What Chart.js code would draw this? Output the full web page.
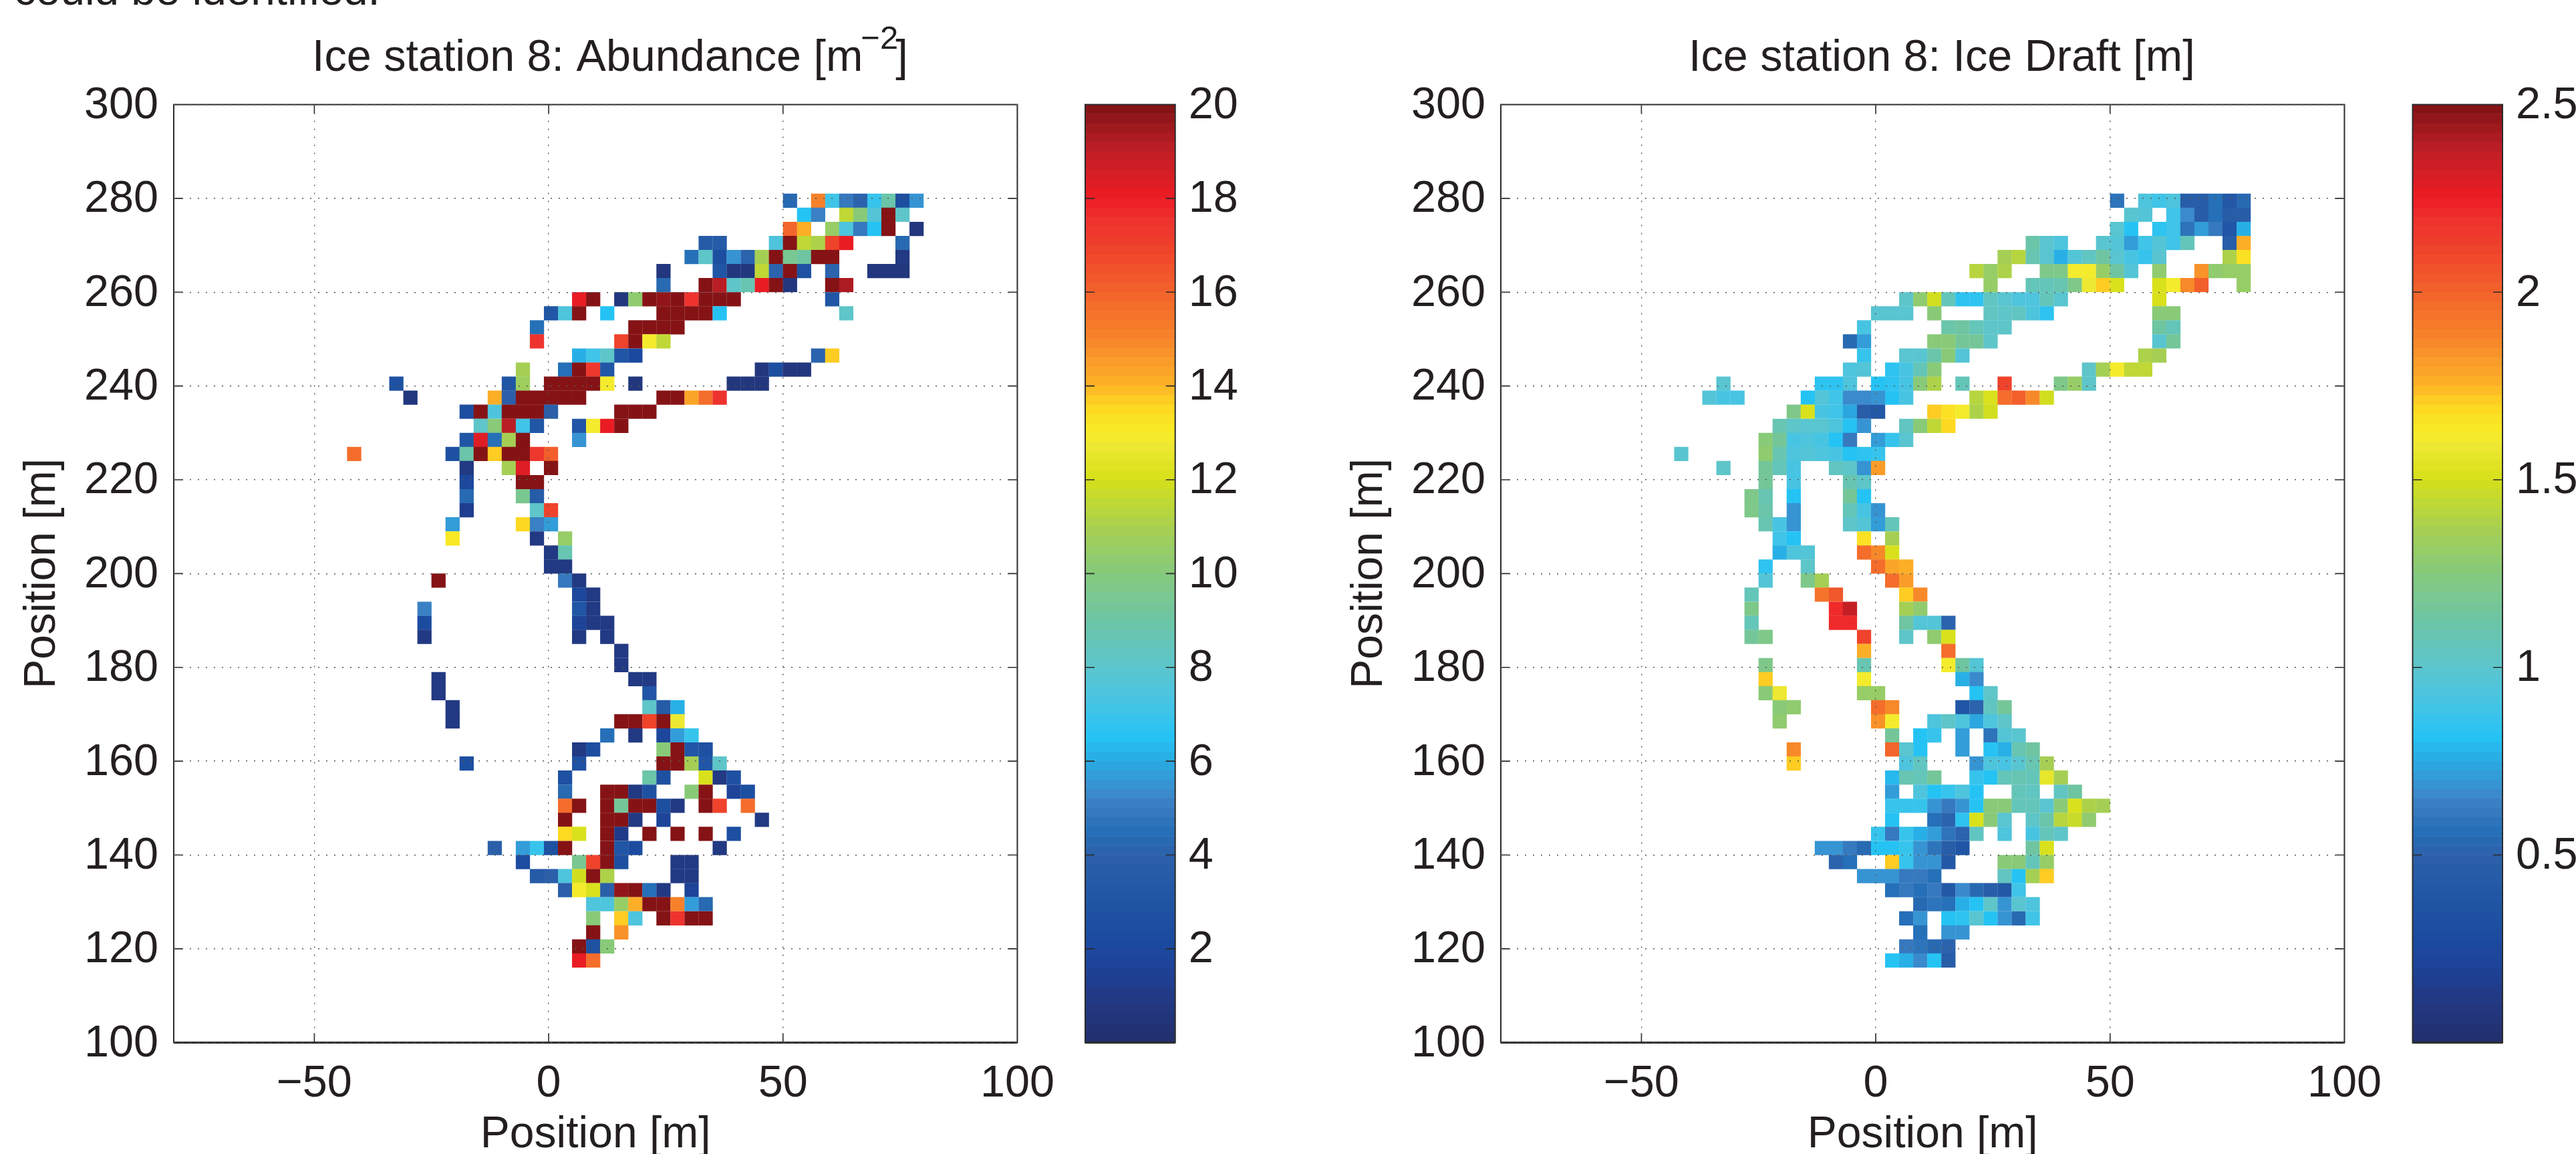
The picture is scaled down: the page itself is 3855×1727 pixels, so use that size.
<!DOCTYPE html>
<html><head><meta charset="utf-8">
<script src="https://cdn.jsdelivr.net/npm/chart.js@4"></script>
<style>
html,body{margin:0;padding:0;background:#fff;width:3855px;height:1727px;overflow:hidden}
canvas{position:absolute;top:0}
#note{position:absolute;left:21px;top:-53px;font:65.7px "Liberation Sans",Arial,sans-serif;color:#231f20;white-space:nowrap;line-height:76px}
</style></head><body>
<div id="note">could be identified.</div>
<canvas id="abundanceMap" width="1600" height="1727" style="left:0"></canvas>
<canvas id="abundanceBar" width="360" height="1727" style="left:1600px"></canvas>
<canvas id="draftMap" width="1600" height="1727" style="left:1986px"></canvas>
<canvas id="draftBar" width="290" height="1727" style="left:3565px"></canvas>
<script>
const _ = null;
const fontName = '"Liberation Sans", Arial, sans-serif';
const ink = '#231f20';
const xTicks = [-50, 0, 50, 100];
const yTicks = [100,120,140,160,180,200,220,240,260,280,300];
const abundanceTicks = [2,4,6,8,10,12,14,16,18,20];
const draftTicks = [0.5,1,1.5,2,2.5];
const cellSize = 3;
const topRowCentre = 279.5;

// left edge (m) of the first cell in each row, top row first
const abundanceStarts = [50,53,50,32,29,23,23,5,-1,-4,-4,5,-7,-34,-31,-19,-16,-19,-43,-19,-19,-19,-19,-22,-22,-1,-1,-25,5,-28,-28,-28,14,14,-25,-25,-22,-22,11,5,-19,2,2,2,2,2,-13,-7,-4,2,8,8,8,5,5];
const abundanceRows = [
[4.2,_,15,7,4.8,4,6.8,8.8,2.5,5.4],
[6.5,5,_,11.4,10,7.6,20,8],
[15.8,14,_,10.5,7.4,4.8,6.5,20,_,0.7],
[3.4,3.4,_,_,_,7.4,20,11.4,11.2,16.8,18,_,_,_,4.2],
[4.5,8,2.5,5.4,4,10.8,20,9.5,9,20,20,_,_,_,_,0.8],
[0.6,_,_,_,3,0.6,0.6,11.4,4,20,2.8,_,4,_,_,0.6,0.6,0.6],
[4.2,_,_,20,19,8,8.6,18,20,0.6,_,_,20,19.3],
[18,20,_,0.6,10.3,20,19.6,20,17.5,20,20,20,_,_,_,_,_,_,3],
[3,7.4,20,_,6.5,_,_,_,20,20,20,20,6.5,_,_,_,_,_,_,_,_,8],
[4.5,_,_,_,_,_,_,20,20,20,20],
[17.5,_,_,_,_,_,16.8,20,12.9,11.5],
[6.1,7,8,3,2,_,_,_,_,_,_,_,_,_,_,_,_,4,13.6],
[10.8,_,_,4.5,20,17.3,3,_,_,_,_,_,_,_,_,_,_,0.7,2.5,0.7,0.7],
[2.8,_,_,_,_,_,_,_,3,10.6,_,20,20,20,20,12.9,_,0.7,_,_,_,_,_,_,0.7,0.7,0.7],
[0.7,_,_,_,_,_,14,3.8,20,20,20,20,20,_,_,_,_,_,20,20,14.2,15.6,17.5],
[2.5,20,7.4,20,20,20,3.8,_,_,_,_,20,20,20],
[8,10,19,7,3,_,_,3,12.9,18,20],
[3,18.3,4.5,10.8,20,_,_,_,5.4],
[15.6,_,_,_,_,_,_,2.8,8.8,20,13.7,20,20,17.3,16],
[0.8,_,_,10.8,18.3,_,20],
[1.8,_,_,_,20,20],
[4.2,_,_,_,9.5,3.4],
[1.3,_,_,_,_,8,16.8],
[5.8,_,_,_,_,13.5,5,5.8],
[13,_,_,_,_,_,0.8,_,10.5],
[0.8,8.7],
[0.8,0.8],
[20,_,_,_,_,_,_,_,_,4.8,0.8],
[1.8,0.8],
[5,_,_,_,_,_,_,_,_,_,_,3,0.8],
[2.3,_,_,_,_,_,_,_,_,_,_,1.7,0.8,0.8],
[0.8,_,_,_,_,_,_,_,_,_,_,0.8,_,0.8],
[0.8],
[0.8],
[0.8,_,_,_,_,_,_,_,_,_,_,_,_,_,0.8,0.8],
[0.8,_,_,_,_,_,_,_,_,_,_,_,_,_,_,3],
[0.8,_,_,_,_,_,_,_,_,_,_,_,_,_,8,3.4,6.1],
[0.8,_,_,_,_,_,_,_,_,_,_,_,20,20,16.8,20,12.7],
[4.5,_,0.8,_,1.8,5.8,6.8],
[0.8,2.4,_,_,_,_,10,20,3,2.8],
[2.4,_,_,_,_,_,_,_,2.8,_,_,_,_,_,20,20,10.8,3,8],
[2.8,_,_,_,_,_,8.9,2.8,_,_,12,0.8,2.6],
[4.2,_,_,20,20,0.8,2.8,_,_,10,20,_,1.6,2.4],
[15.7,20,_,20,9.2,20,20,2.4,0.8,_,20,16.8,_,15.7],
[20,_,_,20,20,0.8,_,1.7,_,_,_,_,_,_,0.8],
[13.5,12,_,20,1,_,20,_,20,_,20,_,2.4],
[3.8,_,5.8,6.8,2.8,20,_,_,20,3,2.2,_,_,_,_,_,0.8],
[2.2,_,_,_,9.5,16.8,20,2.5,_,_,_,0.8,0.8],
[3.4,3.8,7.5,11.8,20,11,_,_,_,_,0.8,0.8],
[3.9,12.9,12.1,3.9,19.6,20,4.5,0.8,_,1.6],
[7.4,7.4,10.5,14.1,20,20,15,5.8,4.2],
[10,_,13.7,7.4,_,20,17.5,20,20],
[20,_,14.6],
[20,2.8,10],
[18,15.7]
];

const draftStarts = [50,53,50,32,26,20,23,5,-1,-4,-7,-4,-7,-34,-37,-19,-22,-25,-43,-34,-25,-28,-28,-25,-22,-22,-25,-25,-28,-28,-28,-28,-4,-25,-25,-25,-22,-22,2,-19,-19,2,2,2,2,-1,-13,-10,-4,2,8,5,8,5,2];
const draftRows = [
[0.58,_,0.94,0.88,0.94,0.45,0.45,0.56,0.4,0.53],
[0.99,0.96,_,0.88,0.66,0.45,0.56,0.45,0.45],
[0.98,0.81,_,0.84,0.88,0.58,0.72,0.6,0.38,0.76],
[1.1,0.98,0.94,_,_,0.98,0.96,0.72,0.88,0.96,0.88,1.05,_,_,0.45,1.76],
[1.35,1.42,1.09,0.99,0.76,0.96,1.03,1.13,0.98,0.9,0.86,0.98,_,_,_,_,1.4,1.67],
[1.42,1.31,1.38,_,_,1.22,1.22,1.62,1.6,1.3,1.13,0.96,_,1.28,_,_,1.84,1.28,1.3,1.3],
[1.31,_,_,1.05,1.06,1.09,1.22,1.59,1.7,1.5,_,_,1.5,1.6,1.87,2,_,_,1.32],
[1,1.28,1.48,1.06,0.84,0.84,1.03,0.99,0.94,0.94,1.06,0.99,_,_,_,_,_,_,1.52],
[0.98,0.98,0.98,_,1.26,_,_,_,1.03,1,1.03,0.94,0.84,_,_,_,_,_,_,_,1.25,1.25],
[0.9,_,_,_,_,_,1.1,1.13,1.06,1.01,1.01,_,_,_,_,_,_,_,_,_,_,1.13,1.06],
[0.53,0.72,_,_,_,_,1.26,1.26,1.15,1.17,1.01,_,_,_,_,_,_,_,_,_,_,_,0.98,1.17],
[0.86,_,_,0.99,0.99,1.1,1.25,0.96,_,_,_,_,_,_,_,_,_,_,_,_,1.38,1.36],
[0.94,0.96,_,0.84,0.91,1.06,1.25,_,_,_,_,_,_,_,_,_,_,1.02,1.36,1.62,1.44,1.44],
[0.99,_,_,_,_,_,_,0.84,0.84,0.94,_,0.81,0.84,0.92,1.25,1.38,_,1.05,_,_,2.12,_,_,_,1.22,1.3,1.02],
[0.96,0.92,0.9,_,_,_,_,0.82,0.96,0.88,0.66,0.66,0.7,0.82,0.9,_,_,_,_,1.42,1.5,1.96,2,1.87,1.49],
[1.22,1.5,0.92,0.88,0.74,0.45,0.42,_,_,_,1.7,1.67,1.6,1.38,1.48],
[1.09,1.02,0.98,0.98,0.94,0.82,0.68,_,_,1.03,1.27,1.44,1.68],
[1.26,1.17,0.91,0.94,0.9,0.82,0.6,_,0.72,0.86,0.98],
[0.99,_,_,_,_,_,1.28,1.09,0.94,0.96,0.94,0.9,0.82,0.84,0.86],
[1.02,_,_,1.17,1.07,0.9,_,_,1.03,1.01,0.7,1.82],
[1.15,_,0.9,_,_,_,1.09,1.02],
[1.22,1.09,_,0.81,_,_,_,1.17,0.81],
[1.22,1.1,_,0.7,_,_,_,1.07,0.9,0.68],
[1.09,0.92,0.68,_,_,_,1,0.96,0.72,1.05],
[0.88,0.81,_,_,_,_,1.67,_,1.35],
[0.76,0.94,0.96,_,_,_,1.96,1.87,1.52],
[0.84,_,_,1,_,_,_,_,1.96,1.78,1.76],
[0.96,_,_,1.21,1.35,_,_,_,_,1.97,1.81],
[1.06,_,_,_,_,1.93,2.03,_,_,_,_,1.7,1.86],
[1.21,_,_,_,_,_,2.2,2.37,_,_,_,1.36,1.28],
[1.07,_,_,_,_,_,2.2,2.2,_,_,_,1.13,0.96,0.96,0.5],
[1.15,1.21,_,_,_,_,_,_,2.1,_,_,1,_,1.28,1.5],
[1.77,_,_,_,_,_,1.95],
[1.22,_,_,_,_,_,_,1.09,_,_,_,_,_,1.61,1.13,0.96],
[1.7,_,_,_,_,_,_,1.61,_,_,_,_,_,_,0.76,0.66],
[1.25,1.58,_,_,_,_,_,1.3,1.3,_,_,_,_,_,_,0.81,1.01],
[1.27,1.28,_,_,_,_,_,1.96,1.87,_,_,_,_,0.38,0.5,1.03,1.15],
[1.28,_,_,_,_,_,_,1.84,1.62,_,_,0.94,1,0.94,0.74,0.94,1],
[1.15,_,0.81,0.86,_,0.72,_,0.58,0.96,0.98],
[1.87,_,_,_,_,_,_,1.98,0.99,0.81,_,_,0.72,_,0.81,0.76,1.09,1.13],
[1.7,_,_,_,_,_,_,_,0.94,1.03,_,_,_,0.7,0.94,0.9,0.99,1.09,1.36],
[0.78,1.09,1.05,1.15,_,_,0.86,0.81,1.05,1.09,1.07,1.55,1.35],
[0.72,_,0.94,0.81,0.86,0.94,0.81,_,_,1.06,1.03,_,1.03,1.13],
[0.86,0.86,0.86,0.68,0.62,0.68,0.81,1.27,1.25,1.06,1.05,0.99,1.25,1.5,1.38,1.35],
[0.81,_,_,0.56,0.5,0.84,1.5,1.26,0.99,_,1.02,1.1,1.42,1.47,1.28],
[0.86,0.62,0.86,0.76,0.72,0.58,0.5,1.03,_,0.94,_,0.91,1.06,1.02],
[0.68,0.68,0.62,0.53,0.81,0.81,0.86,0.68,0.58,0.45,0.38,_,_,_,_,1.13,1.5],
[0.5,0.56,_,_,1.7,0.86,0.68,0.68,0.42,_,_,_,1.26,1.25,1.06,1.32],
[0.68,0.68,0.68,0.62,0.62,0.56,_,_,_,_,1.03,0.81,1.35,1.7],
[0.56,0.62,0.56,0.62,0.4,0.65,0.53,0.45,0.4,0.88],
[0.54,0.58,0.56,0.76,0.81,1.02,0.68,0.99,0.94],
[0.56,0.68,_,0.81,0.84,0.98,0.81,0.68,0.53,0.88],
[0.56,_,0.68,0.68],
[0.62,0.58,0.53,0.5],
[0.81,0.76,0.66,0.81,0.45]
];

// colour map: fraction of the colour range -> colour, sampled in 100 bands
const mapStops = [[0,'#232f6d'],[.05,'#223a85'],[.07,'#1f3f92'],[.1,'#1b489e'],[.15,'#1f55a4'],[.2,'#2c60aa'],[.225,'#2570b8'],[.25,'#3a7bc0'],[.27,'#3a8fd0'],[.3,'#29abe2'],[.325,'#25c3f4'],[.36,'#45c4e6'],[.4,'#5cc5cd'],[.45,'#6cc5a5'],[.5,'#86c97d'],[.55,'#a8d04f'],[.6,'#d6e01a'],[.64,'#f0e935'],[.65,'#f8ec25'],[.68,'#fed520'],[.7,'#fdb327'],[.75,'#f7842a'],[.8,'#f2632b'],[.85,'#ef3f2b'],[.875,'#ee332f'],[.9,'#ed1c24'],[.95,'#c01f26'],[1,'#7e1214']];
const bandCount = 100;
const hexRgb = h => [1,3,5].map(i => parseInt(h.substr(i,2),16));
function sampleMap(f){
  let i = 0;
  while (i < mapStops.length-2 && f > mapStops[i+1][0]) i++;
  const [a,ca] = mapStops[i], [b,cb] = mapStops[i+1];
  const t = Math.min(1,Math.max(0,(f-a)/(b-a))), A = hexRgb(ca), B = hexRgb(cb);
  return 'rgb('+A.map((v,k)=>Math.round(v+(B[k]-v)*t)).join(',')+')';
}
const bands = Array.from({length:bandCount},(_v,i)=>sampleMap((i+0.5)/bandCount));
const bandFor = (v,max) => bands[Math.min(bandCount-1,Math.floor(v/max*bandCount))];

const plotTop = 156.5, plotBottom = 1560.3, canvasH = 1727;

const framePlugin = {
  id:'frame',
  afterDatasetsDraw(chart,_a,o){
    const {ctx,chartArea:{left,right,top,bottom}} = chart;
    ctx.save();
    ctx.strokeStyle = '#2b2b2b'; ctx.lineWidth = 2;
    ctx.strokeRect(left,top,right-left,bottom-top);
    ctx.lineWidth = 3;
    ctx.beginPath();ctx.moveTo(left,bottom);ctx.lineTo(right,bottom);ctx.stroke();
    ctx.lineWidth = 1.6;
    ctx.beginPath();
    const len = 14;
    if (o.xTicks) o.xTicks.forEach(v=>{ if(v>=chart.scales.x.max) return; const p=chart.scales.x.getPixelForValue(v);
      ctx.moveTo(p,bottom);ctx.lineTo(p,bottom-len);ctx.moveTo(p,top);ctx.lineTo(p,top+len);});
    o.yTicks.forEach(v=>{ const y=chart.scales.y; if(v<=y.min||v>=y.max) return; const p=y.getPixelForValue(v);
      ctx.moveTo(left,p);ctx.lineTo(left+len,p);ctx.moveTo(right,p);ctx.lineTo(right-len,p);});
    ctx.stroke();
    ctx.restore();
  },
  afterDraw(chart,_a,o){
    if(!o.title) return;
    const {ctx}=chart;
    ctx.save();
    ctx.fillStyle=ink; ctx.textBaseline='alphabetic'; ctx.textAlign='left';
    let x=o.titleX;
    o.title.forEach(p=>{
      ctx.font=(p.sup?49:66.5)+'px '+fontName;
      x+=p.dx||0;
      ctx.fillText(p.text,x,p.sup?73:106);
      x+=ctx.measureText(p.text).width;
    });
    ctx.restore();
  }
};

function heatMap(id,starts,rows,maxV,title,titleX,rightPad){
  const cells=[];
  rows.forEach((row,r)=>row.forEach((v,c)=>{
    if(v!==null) cells.push({x:starts[r]+cellSize/2+c*cellSize,y:topRowCentre-r*cellSize,v});
  }));
  new Chart(document.getElementById(id),{
    type:'scatter',
    data:{datasets:[{data:cells,
      pointStyle:'rect',
      pointBorderWidth:0,
      pointRadius(ctx){
        const s=ctx.chart.scales.x;
        return Math.abs(s.getPixelForValue(cellSize)-s.getPixelForValue(0))/2*Math.SQRT2+0.15;
      },
      pointBackgroundColor(ctx){const d=ctx.raw; return d?bandFor(d.v,maxV):'#000';}
    }]},
    plugins:[framePlugin],
    options:{
      responsive:false,animation:false,events:[],
      layout:{padding:{top:plotTop,right:rightPad,left:0,bottom:0}},
      plugins:{legend:{display:false},tooltip:{enabled:false},frame:{xTicks,yTicks,title,titleX}},
      scales:{
        x:{type:'linear',min:-80,max:100,
          afterBuildTicks(s){s.ticks=xTicks.map(value=>({value}));},
          afterFit(s){s.height=canvasH-plotBottom;},
          border:{display:false,dash:[2,10]},
          grid:{color:'#555',lineWidth:1.4,drawTicks:false,z:1},
          ticks:{autoSkip:false,maxRotation:0,padding:22,color:ink,font:{family:fontName,size:66.6},
            callback:v=>v<0?'\u2212'+Math.abs(v):String(v)},
          title:{display:true,text:'Position [m]',color:ink,font:{family:fontName,size:66,lineHeight:1},padding:{top:0,bottom:-5}}
        },
        y:{type:'linear',min:100,max:300,
          afterBuildTicks(s){s.ticks=yTicks.map(value=>({value}));},
          afterFit(s){s.width=260;},
          border:{display:false,dash:[2,10]},
          grid:{color:'#555',lineWidth:1.4,drawTicks:false,z:1},
          ticks:{autoSkip:false,padding:23,labelOffset:2,color:ink,font:{family:fontName,size:66.6}},
          title:{display:true,text:'Position [m]',color:ink,font:{family:fontName,size:66,lineHeight:1},padding:{top:31,bottom:0}}
        }
      }
    }
  });
}

function colourBar(id,maxV,ticks,left,right,canvasW){
  new Chart(document.getElementById(id),{
    type:'bar',
    data:{labels:['scale'],datasets:bands.map((c,i)=>({
      data:[[i/bandCount*maxV,(i+1)/bandCount*maxV]],
      backgroundColor:c,borderWidth:0,barPercentage:1,categoryPercentage:1,grouped:false
    }))},
    plugins:[framePlugin],
    options:{
      responsive:false,animation:false,events:[],
      layout:{padding:{top:plotTop,bottom:canvasH-plotBottom,left,right:0}},
      plugins:{legend:{display:false},tooltip:{enabled:false},frame:{yTicks:ticks}},
      scales:{
        x:{display:false},
        y:{type:'linear',position:'right',min:0,max:maxV,
          afterBuildTicks(s){s.ticks=ticks.map(value=>({value}));},
          afterFit(s){s.width=canvasW-right;},
          border:{display:false},
          grid:{display:false,drawTicks:false},
          ticks:{autoSkip:false,padding:20,labelOffset:2,color:ink,font:{family:fontName,size:66.6},callback:v=>String(v)}
        }
      }
    }
  });
}

heatMap('abundanceMap',abundanceStarts,abundanceRows,20,
  [{text:'Ice station 8: Abundance [m'},{text:'\u22122',sup:true,dx:-3},{text:']',dx:-4}],467,76.4);
heatMap('draftMap',draftStarts,draftRows,2.5,
  [{text:'Ice station 8: Ice Draft [m]'}],541,77);
colourBar('abundanceBar',20,abundanceTicks,24,158.7,360);
colourBar('draftBar',2.5,draftTicks,45.5,180,290);
</script>
</body></html>
